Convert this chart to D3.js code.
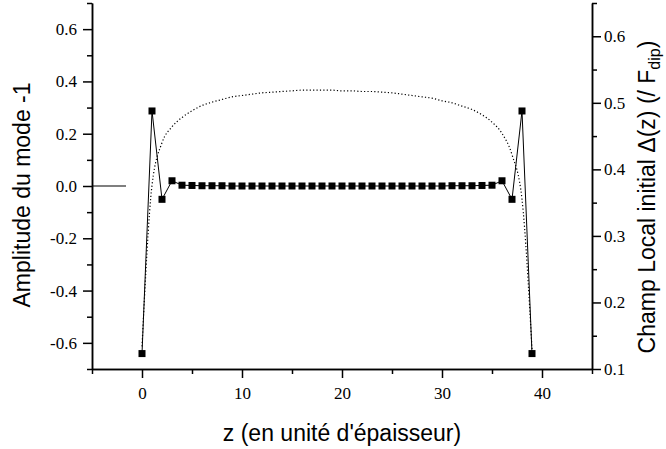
<!DOCTYPE html>
<html>
<head>
<meta charset="utf-8">
<script src="https://cdn.jsdelivr.net/npm/d3@7"></script>
<style>
  body { margin: 0; background: #fff; }
  .axis path, .axis line { stroke: #000; stroke-width: 1.5; }
  .title { font-family: "Liberation Sans", Arial, sans-serif; font-size: 23px; fill: #000; }
</style>
</head>
<body>
<svg width="666" height="449"></svg>
<script>
// values

var zValues = [0, 1, 2, 3, 4, 5, 6, 7, 8, 9, 10, 11, 12, 13, 14, 15, 16, 17, 18, 19,
               20, 21, 22, 23, 24, 25, 26, 27, 28, 29, 30, 31, 32, 33, 34, 35, 36, 37, 38, 39];

// amplitude du mode -1 (squares, left axis)
var amplitude = [-0.641, 0.287, -0.051, 0.020, 0.003, 0.002, 0.001, 0.001, 0.001, 0.000,
                 0.000, 0.000, 0.000, 0.000, 0.000, 0.000, 0.000, 0.000, 0.000, 0.000,
                 0.000, 0.000, 0.000, 0.000, 0.000, 0.000, 0.000, 0.000, 0.000, 0.000,
                 0.000, 0.001, 0.001, 0.001, 0.002, 0.003, 0.020, -0.051, 0.287, -0.641];

// champ local initial (dotted, right axis)
var champLocal = [0.134, 0.376, 0.440, 0.464, 0.478, 0.488, 0.496, 0.501, 0.505, 0.509,
                  0.511, 0.513, 0.515, 0.516, 0.517, 0.518, 0.519, 0.519, 0.519, 0.519,
                  0.518, 0.518, 0.517, 0.517, 0.516, 0.515, 0.513, 0.511, 0.509, 0.507,
                  0.503, 0.500, 0.495, 0.490, 0.482, 0.471, 0.454, 0.422, 0.355, 0.130];

// short reference line at zero, left of the data
var zeroLineZ = [-5, -1.6],
    zeroLineV = [0, 0];

var xTicks = [0, 10, 20, 30, 40],
    xTickLabels = ["0", "10", "20", "30", "40"],
    xMinorTicks = [-5, 5, 15, 25, 35, 45];

var leftTicks = [-0.6, -0.4, -0.2, 0.0, 0.2, 0.4, 0.6],
    leftTickLabels = ["-0.6", "-0.4", "-0.2", "0.0", "0.2", "0.4", "0.6"],
    leftMinorTicks = [-0.7, -0.5, -0.3, -0.1, 0.1, 0.3, 0.5, 0.7];

var rightTicks = [0.1, 0.2, 0.3, 0.4, 0.5, 0.6],
    rightTickLabels = ["0.1", "0.2", "0.3", "0.4", "0.5", "0.6"],
    rightMinorTicks = [0.15, 0.25, 0.35, 0.45, 0.55, 0.65];

// plot box
var boxLeft = 92, boxRight = 592, boxTop = 3, boxBottom = 369;

var xScale = d3.scaleLinear().domain([-5, 45]).range([boxLeft, boxRight]),
    yLeft = d3.scaleLinear().domain([-0.7, 0.7]).range([boxBottom, boxTop]),
    yRight = d3.scaleLinear().domain([0.1, 0.65]).range([boxBottom, boxTop]);

var svg = d3.select('svg');

// minor ticks first, then major ticks with labels
svg.append('g').attr('class', 'axis')
   .attr('transform', 'translate(0,' + boxBottom + ')')
   .call(d3.axisBottom(xScale).tickValues(xMinorTicks).tickSize(5).tickSizeOuter(0).tickFormat(''));
svg.append('g').attr('class', 'axis')
   .attr('transform', 'translate(0,' + boxBottom + ')')
   .call(d3.axisBottom(xScale).tickValues(xTicks).tickSize(9).tickSizeOuter(0).tickPadding(9)
           .tickFormat(function(d, i) { return xTickLabels[i]; }));

svg.append('g').attr('class', 'axis')
   .attr('transform', 'translate(' + boxLeft + ',0)')
   .call(d3.axisLeft(yLeft).tickValues(leftMinorTicks).tickSize(5).tickSizeOuter(0).tickFormat(''));
svg.append('g').attr('class', 'axis')
   .attr('transform', 'translate(' + boxLeft + ',0)')
   .call(d3.axisLeft(yLeft).tickValues(leftTicks).tickSize(9).tickSizeOuter(0).tickPadding(6)
           .tickFormat(function(d, i) { return leftTickLabels[i]; }));

svg.append('g').attr('class', 'axis')
   .attr('transform', 'translate(' + boxRight + ',0)')
   .call(d3.axisRight(yRight).tickValues(rightMinorTicks).tickSize(5).tickSizeOuter(0).tickFormat(''));
svg.append('g').attr('class', 'axis')
   .attr('transform', 'translate(' + boxRight + ',0)')
   .call(d3.axisRight(yRight).tickValues(rightTicks).tickSize(9).tickSizeOuter(0).tickPadding(3)
           .tickFormat(function(d, i) { return rightTickLabels[i]; }));

// serif tick labels like the original
svg.selectAll('.axis')
   .attr('font-family', '"Liberation Serif", "Times New Roman", serif')
   .attr('font-size', 17);
svg.selectAll('.axis text')
   .style('font-family', '"Liberation Serif", "Times New Roman", serif')
   .style('font-size', '17px')
   .style('fill', '#000');

// zero line
svg.append('path')
   .datum(zeroLineZ.map(function(z, i) { return [z, zeroLineV[i]]; }))
   .attr('fill', 'none')
   .attr('stroke', '#000')
   .attr('stroke-width', 1.2)
   .attr('d', d3.line().x(function(d) { return xScale(d[0]); })
                       .y(function(d) { return yLeft(d[1]); }));

// dotted curve on right axis
svg.append('path')
   .datum(zValues.map(function(z, i) { return [z, champLocal[i]]; }))
   .attr('fill', 'none')
   .attr('stroke', '#000')
   .attr('stroke-width', 1.2)
   .attr('stroke-dasharray', '1.2,2.2')
   .attr('d', d3.line().curve(d3.curveMonotoneX)
                       .x(function(d) { return xScale(d[0]); })
                       .y(function(d) { return yRight(d[1]); }));

// amplitude line + squares
var ampData = zValues.map(function(z, i) { return [z, amplitude[i]]; });
svg.append('path')
   .datum(ampData)
   .attr('fill', 'none')
   .attr('stroke', '#000')
   .attr('stroke-width', 1)
   .attr('d', d3.line().x(function(d) { return xScale(d[0]); })
                       .y(function(d) { return yLeft(d[1]); }));

var sq = 7;
svg.selectAll('rect.pt')
   .data(ampData)
   .enter().append('rect')
   .attr('class', 'pt')
   .attr('x', function(d) { return xScale(d[0]) - sq / 2; })
   .attr('y', function(d) { return yLeft(d[1]) - sq / 2; })
   .attr('width', sq)
   .attr('height', sq)
   .attr('fill', '#000');

// axis titles
svg.append('text').attr('class', 'title')
   .attr('x', 342).attr('y', 441)
   .style('text-anchor', 'middle')
   .text("z (en unité d'épaisseur)");

svg.append('text').attr('class', 'title')
   .attr('transform', 'translate(30,195) rotate(-90)')
   .style('text-anchor', 'middle')
   .text('Amplitude du mode -1');

var rt = svg.append('text').attr('class', 'title')
   .attr('transform', 'translate(655,197) rotate(-90)')
   .style('text-anchor', 'middle');
rt.append('tspan').text('Champ Local initial \u0394(z) (/ F');
rt.append('tspan').attr('dy', 5).style('font-size', '16px').text('dip');
rt.append('tspan').attr('dy', -5).text(')');
</script>
</body>
</html>
